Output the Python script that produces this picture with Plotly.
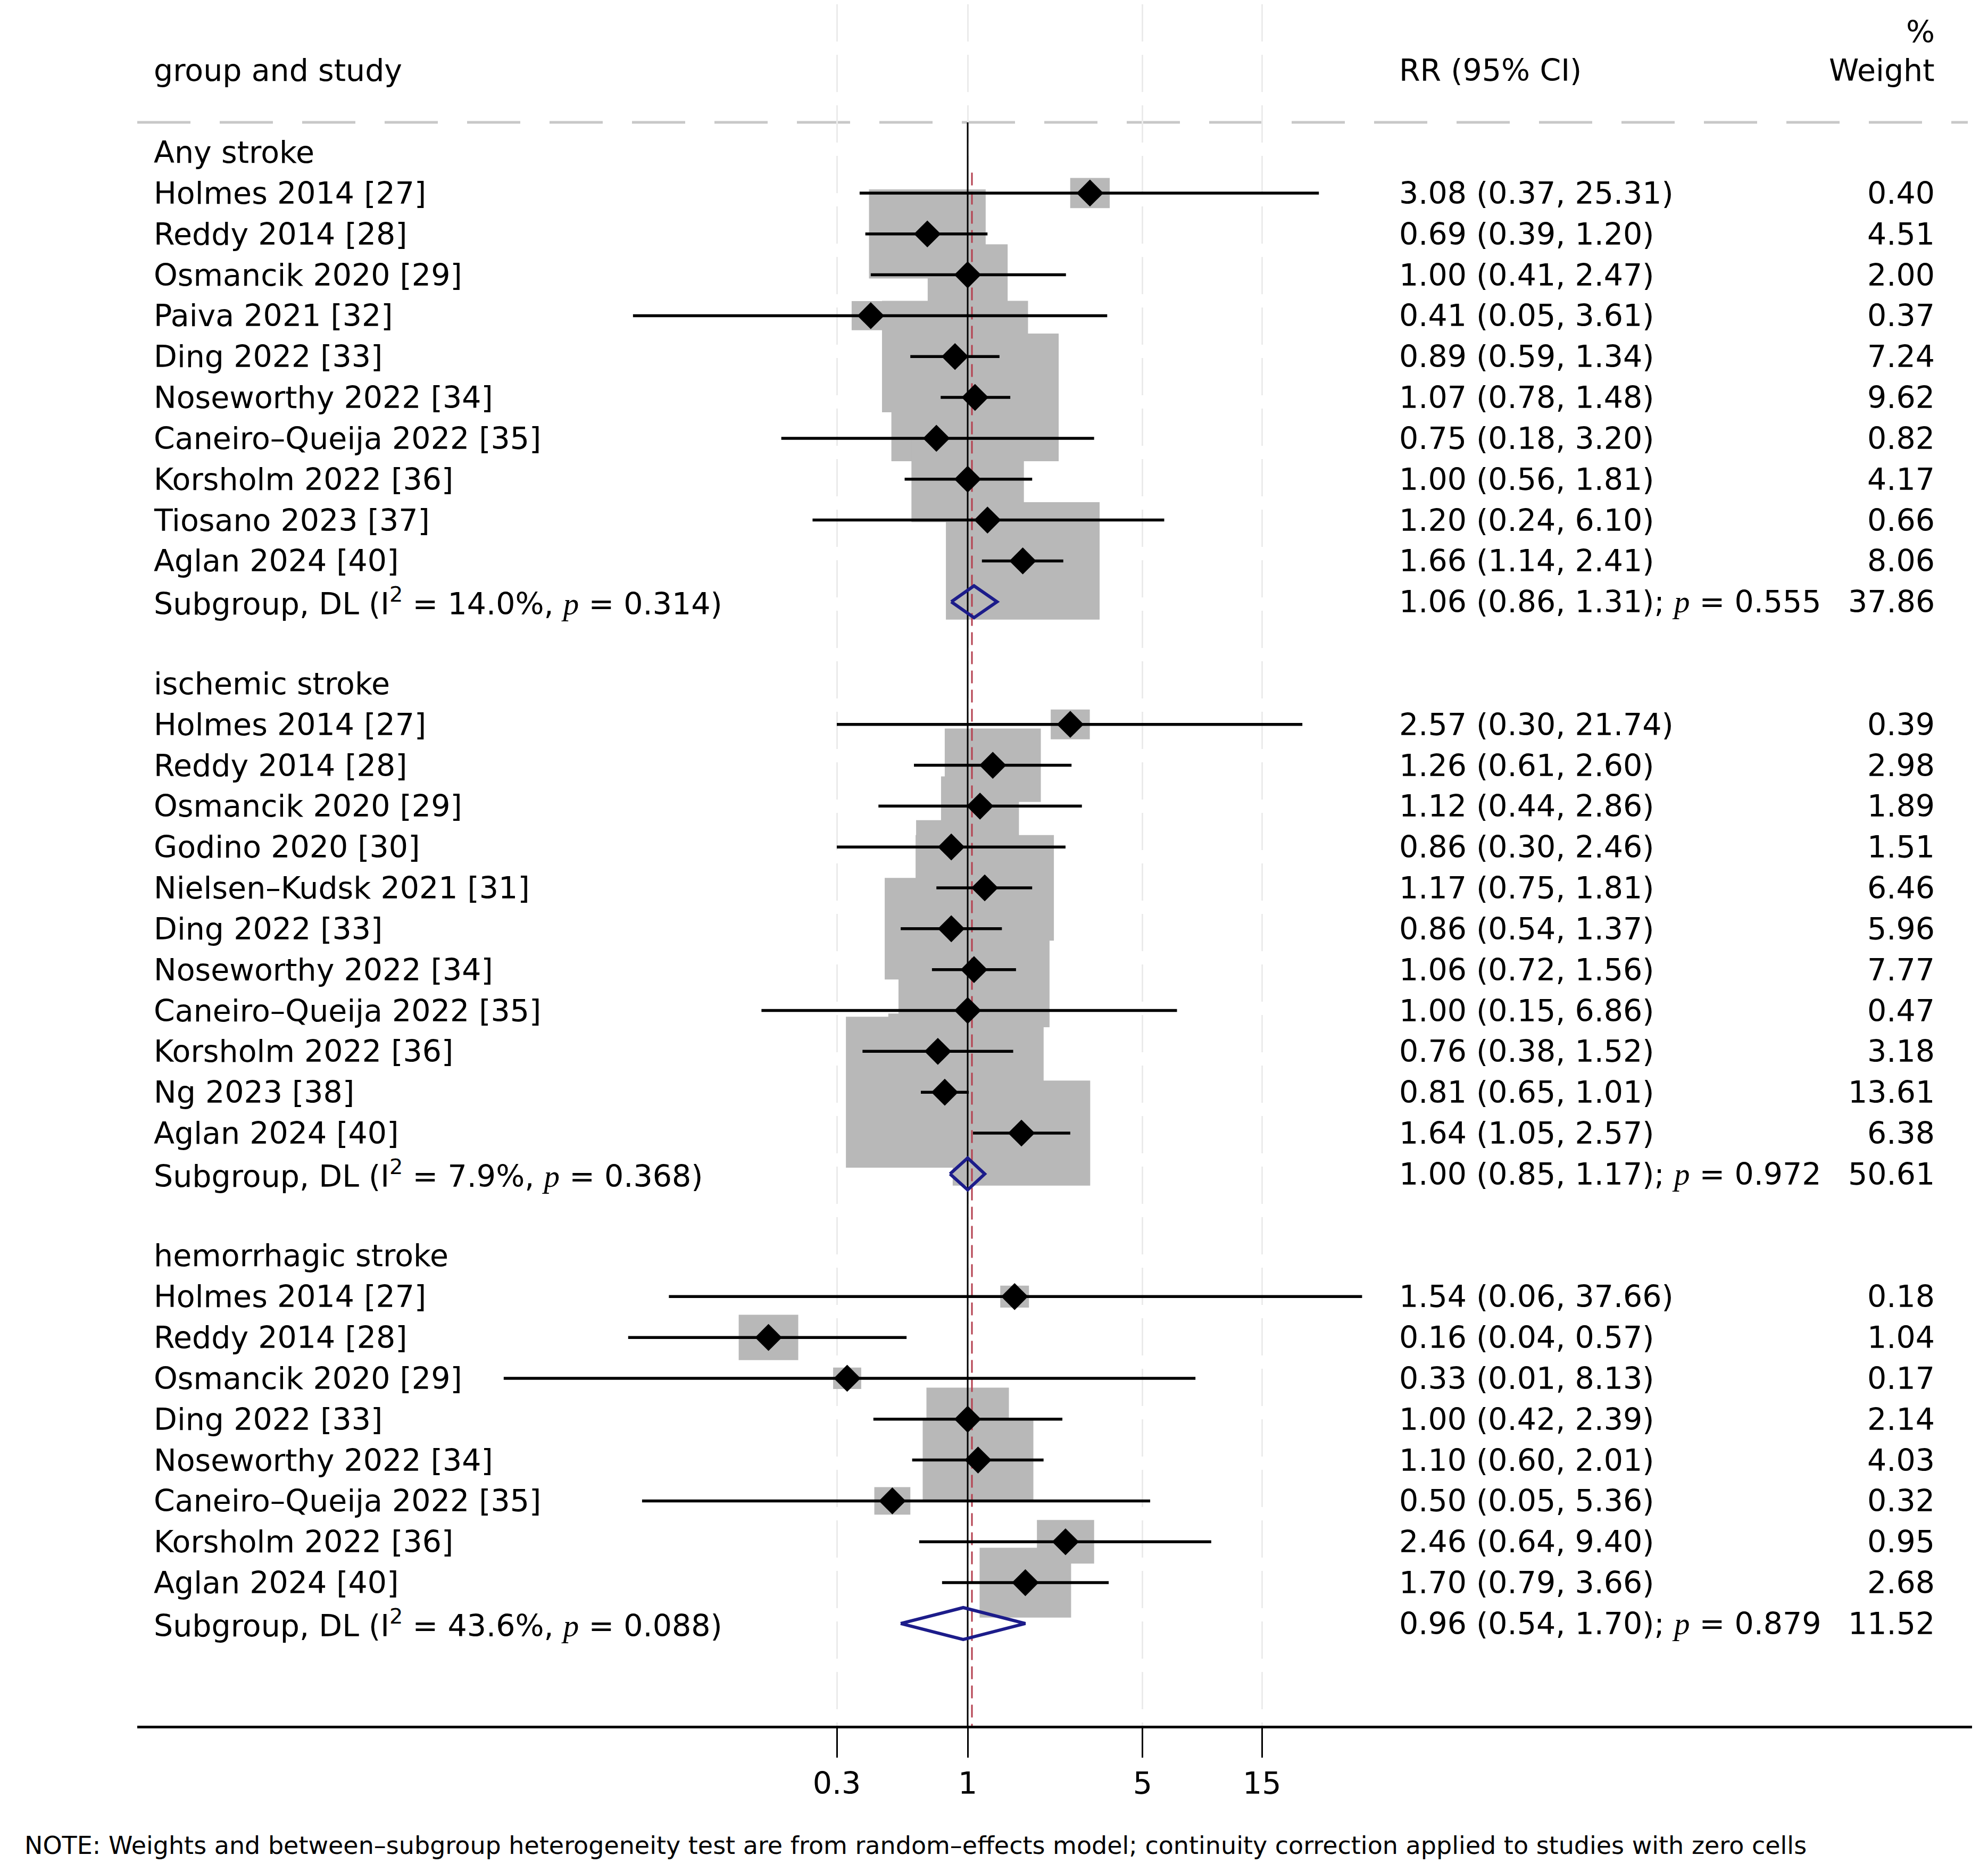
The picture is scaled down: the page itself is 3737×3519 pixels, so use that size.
import numpy as np
import plotly.graph_objects as go

# ------------------------------------------------------------------ data
group_names = ["Any stroke", "ischemic stroke", "hemorrhagic stroke"]

any_studies = ["Holmes 2014 [27]", "Reddy 2014 [28]", "Osmancik 2020 [29]", "Paiva 2021 [32]",
               "Ding 2022 [33]", "Noseworthy 2022 [34]", "Caneiro–Queija 2022 [35]",
               "Korsholm 2022 [36]", "Tiosano 2023 [37]", "Aglan 2024 [40]"]
any_rr = [3.08, 0.69, 1.00, 0.41, 0.89, 1.07, 0.75, 1.00, 1.20, 1.66]
any_lo = [0.37, 0.39, 0.41, 0.046, 0.59, 0.78, 0.18, 0.56, 0.24, 1.14]
any_hi = [25.31, 1.20, 2.47, 3.61, 1.34, 1.48, 3.20, 1.81, 6.10, 2.41]
any_wt = [0.40, 4.51, 2.00, 0.37, 7.24, 9.62, 0.82, 4.17, 0.66, 8.06]

isch_studies = ["Holmes 2014 [27]", "Reddy 2014 [28]", "Osmancik 2020 [29]", "Godino 2020 [30]",
                "Nielsen–Kudsk 2021 [31]", "Ding 2022 [33]", "Noseworthy 2022 [34]",
                "Caneiro–Queija 2022 [35]", "Korsholm 2022 [36]", "Ng 2023 [38]", "Aglan 2024 [40]"]
isch_rr = [2.57, 1.26, 1.12, 0.86, 1.17, 0.86, 1.06, 1.00, 0.76, 0.81, 1.64]
isch_lo = [0.30, 0.61, 0.44, 0.30, 0.75, 0.54, 0.72, 0.15, 0.38, 0.65, 1.05]
isch_hi = [21.74, 2.60, 2.86, 2.46, 1.81, 1.37, 1.56, 6.86, 1.52, 1.01, 2.57]
isch_wt = [0.39, 2.98, 1.89, 1.51, 6.46, 5.96, 7.77, 0.47, 3.18, 13.61, 6.38]

hem_studies = ["Holmes 2014 [27]", "Reddy 2014 [28]", "Osmancik 2020 [29]", "Ding 2022 [33]",
               "Noseworthy 2022 [34]", "Caneiro–Queija 2022 [35]", "Korsholm 2022 [36]",
               "Aglan 2024 [40]"]
hem_rr = [1.54, 0.16, 0.33, 1.00, 1.10, 0.50, 2.46, 1.70]
hem_lo = [0.064, 0.044, 0.014, 0.42, 0.60, 0.05, 0.64, 0.79]
hem_hi = [37.66, 0.57, 8.13, 2.39, 2.01, 5.36, 9.40, 3.66]
hem_wt = [0.18, 1.04, 0.17, 2.14, 4.03, 0.32, 0.95, 2.68]

sub_rr = [1.06, 1.00, 0.96]
sub_lo = [0.86, 0.85, 0.54]
sub_hi = [1.31, 1.17, 1.70]
sub_wt = [37.86, 50.61, 11.52]
sub_i2 = ["14.0%", "7.9%", "43.6%"]
sub_phet = ["0.314", "0.368", "0.088"]
sub_peff = ["0.555", "0.972", "0.879"]

overall_rr = 1.04

tick_vals = [0.3, 1, 5, 15]
tick_text = ["0.3", "1", "5", "15"]

note_text = ("NOTE: Weights and between–subgroup heterogeneity test are from random–effects model; "
             "continuity correction applied to studies with zero cells")

# ------------------------------------------------------------------ layout constants
W, H = 3737, 3519
ML, MR, MT, MB = 250, 38, 0, 283
XR = [-3.318, 4.013]          # log10 range
YR = [38.5, -3.62]            # rows, reversed
PW, PH = W - ML - MR, H - MT - MB
PX_DEC = PW / (XR[1] - XR[0])
PX_ROW = PH / (YR[0] - YR[1])

FONT = "DejaVu Sans"
FS = 57
BOX_COLOR = "#b8b8b8"
NAVY = "#1c1c8a"

groups = [
    (any_studies, any_rr, any_lo, any_hi, any_wt),
    (isch_studies, isch_rr, isch_lo, isch_hi, isch_wt),
    (hem_studies, hem_rr, hem_lo, hem_hi, hem_wt),
]


def px_to_paper_x(px):
    return (px - ML) / PW


X_LABEL = px_to_paper_x(279)
X_RR = px_to_paper_x(2620)
X_WT = px_to_paper_x(3631)

fig = go.Figure()
annotations = []

ci_x, ci_y, pt_x, pt_y = [], [], [], []
row = 0
for gi, (names, rr, lo, hi, wt) in enumerate(groups):
    annotations.append(dict(x=X_LABEL, y=row, text=group_names[gi], xanchor="left"))
    for k in range(len(names)):
        r = row + 1 + k
        side = 12.7 + 97.3 * np.sqrt(wt[k])
        hw = side / 2 / PX_DEC
        hh = side / 1.31 / 2 / PX_ROW
        x0, x1 = rr[k] * 10 ** (-hw), rr[k] * 10 ** hw
        fig.add_trace(go.Scatter(x=[x0, x1, x1, x0, x0], y=[r - hh, r - hh, r + hh, r + hh, r - hh],
                                 mode="lines", fill="toself", fillcolor=BOX_COLOR,
                                 line=dict(width=0, color=BOX_COLOR), hoverinfo="skip"))
        ci_x += [lo[k], hi[k], None]
        ci_y += [r, r, None]
        pt_x.append(rr[k])
        pt_y.append(r)
        annotations.append(dict(x=X_LABEL, y=r, text=names[k], xanchor="left"))
        annotations.append(dict(x=X_RR, y=r, text=f"{rr[k]:.2f} ({lo[k]:.2f}, {hi[k]:.2f})",
                                xanchor="left"))
        annotations.append(dict(x=X_WT, y=r, text=f"{wt[k]:.2f}", xanchor="right"))
    rs = row + len(names) + 1
    pit = f"<span style=\"font-family:Liberation Serif;font-size:{FS + 2}px\"><i>p</i></span>"
    annotations.append(dict(x=X_LABEL, y=rs,
                            text=f"Subgroup, DL (I<sup>2</sup> = {sub_i2[gi]}, {pit} = {sub_phet[gi]})",
                            xanchor="left"))
    annotations.append(dict(x=X_RR, y=rs,
                            text=f"{sub_rr[gi]:.2f} ({sub_lo[gi]:.2f}, {sub_hi[gi]:.2f}); {pit} = {sub_peff[gi]}",
                            xanchor="left"))
    annotations.append(dict(x=X_WT, y=rs, text=f"{sub_wt[gi]:.2f}", xanchor="right"))
    row = rs + 2

# reference line at 1 and overall effect line
fig.add_trace(go.Scatter(x=[1, 1], y=[-0.73, YR[0]], mode="lines",
                         line=dict(color="black", width=3), hoverinfo="skip"))
fig.add_trace(go.Scatter(x=[overall_rr, overall_rr], y=[0.5, YR[0]], mode="lines",
                         line=dict(color="#b4404f", width=3, dash="24px,12px"), hoverinfo="skip"))

# CIs and point estimates
fig.add_trace(go.Scatter(x=ci_x, y=ci_y, mode="lines", line=dict(color="black", width=5.5),
                         hoverinfo="skip"))
fig.add_trace(go.Scatter(x=pt_x, y=pt_y, mode="markers",
                         marker=dict(symbol="diamond", size=39, color="black", line=dict(width=0)),
                         hoverinfo="skip"))

# subgroup diamonds
row = 0
for gi, (names, *_r) in enumerate(groups):
    rs = row + len(names) + 1
    d = 0.39
    fig.add_trace(go.Scatter(x=[sub_lo[gi], sub_rr[gi], sub_hi[gi], sub_rr[gi], sub_lo[gi]],
                             y=[rs, rs - d, rs, rs + d, rs], mode="lines",
                             line=dict(color=NAVY, width=6), hoverinfo="skip"))
    row = rs + 2

# headers
annotations.append(dict(x=X_LABEL, y=-2, text="group and study", xanchor="left"))
annotations.append(dict(x=X_RR, y=-2, text="RR (95% CI)", xanchor="left"))
annotations.append(dict(x=X_WT, y=-2, text="Weight", xanchor="right"))
annotations.append(dict(x=X_WT, y=-2.94, text="%", xanchor="right"))

for a in annotations:
    a.update(xref="paper", yref="y", yanchor="middle", showarrow=False,
             font=dict(family=FONT, size=FS, color="black"))

annotations.append(dict(x=px_to_paper_x(36), y=-(3461 - (H - MB)) / PH, xref="paper", yref="paper",
                        text=note_text, xanchor="left", yanchor="middle", showarrow=False,
                        font=dict(family=FONT, size=46, color="black")))

fig.update_layout(
    width=W, height=H, autosize=False,
    margin=dict(l=ML, r=MR, t=MT, b=MB, pad=0),
    paper_bgcolor="white", plot_bgcolor="white",
    showlegend=False,
    annotations=annotations,
    shapes=[dict(type="line", xref="paper", yref="y", x0=0, x1=(3691 - ML) / PW, y0=-0.73, y1=-0.73,
                 line=dict(color="#c8c8c8", width=5, dash="100px,55px"), layer="below")],
    xaxis=dict(type="log", range=XR, tickvals=tick_vals, ticktext=tick_text,
               ticks="outside", ticklen=55, tickwidth=3, tickcolor="black",
               showline=True, linecolor="black", linewidth=5,
               showgrid=True, gridcolor="#ebebeb", gridwidth=3, griddash="70px,25px",
               zeroline=False, tickfont=dict(family=FONT, size=FS, color="black")),
    yaxis=dict(range=YR, visible=False, showgrid=False, zeroline=False),
)

fig.write_html("out.html")
